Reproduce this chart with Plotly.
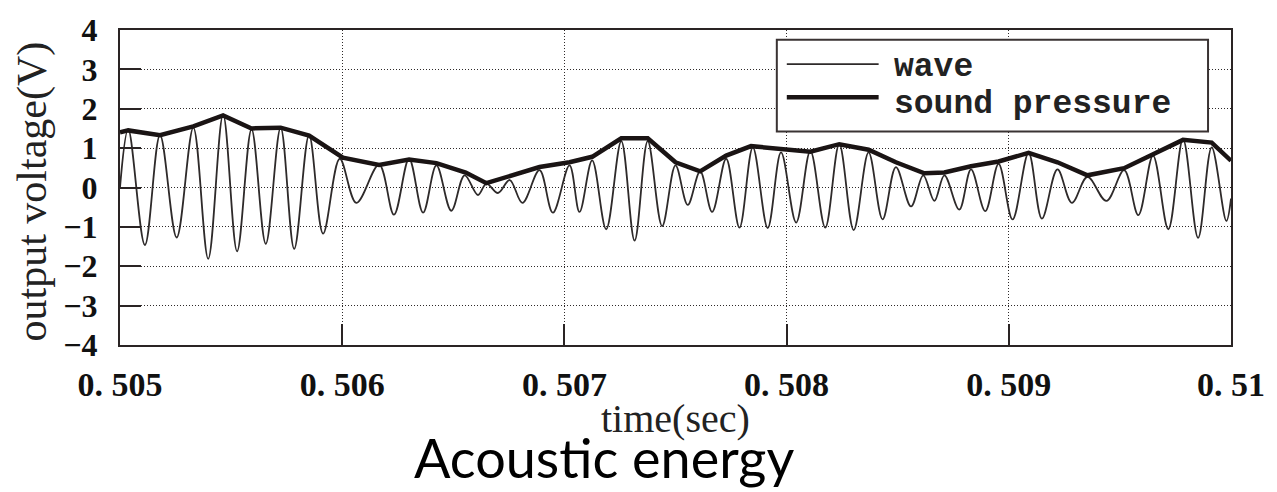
import plotly.graph_objects as go

# ---------------- data ----------------
wave_t = [0.505000, 0.505037, 0.505112, 0.505180, 0.505255, 0.505330, 0.505397, 0.505464,
          0.505527, 0.505592, 0.505656, 0.505723, 0.505784, 0.505851, 0.505914, 0.505989,
          0.506064, 0.506166, 0.506233, 0.506301, 0.506364, 0.506424, 0.506491, 0.506551,
          0.506611, 0.506649, 0.506701, 0.506754, 0.506811, 0.506888, 0.506948, 0.507023,
          0.507068, 0.507125, 0.507188, 0.507256, 0.507316, 0.507375, 0.507440, 0.507500,
          0.507555, 0.507611, 0.507665, 0.507728, 0.507788, 0.507848, 0.507915, 0.507975,
          0.508043, 0.508107, 0.508174, 0.508237, 0.508302, 0.508369, 0.508432, 0.508492,
          0.508560, 0.508615, 0.508665, 0.508710, 0.508777, 0.508830, 0.508894, 0.508954,
          0.509017, 0.509089, 0.509149, 0.509219, 0.509284, 0.509354, 0.509439, 0.509519,
          0.509583, 0.509649, 0.509718, 0.509784, 0.509852, 0.509913, 0.509979, 0.510000]
wave_v = [0.00, 1.48, -1.46, 1.33, -1.27, 1.52, -1.81, 1.85,
          -1.62, 1.48, -1.43, 1.52, -1.56, 1.33, -1.17, 0.73,
          -0.39, 0.58, -0.69, 0.73, -0.64, 0.56, -0.59, 0.31,
          -0.19, 0.10, -0.14, 0.19, -0.39, 0.44, -0.64, 0.56,
          -0.62, 0.69, -1.06, 1.18, -1.35, 1.18, -0.98, 0.56,
          -0.44, 0.41, -0.62, 0.73, -1.02, 1.02, -1.03, 0.89,
          -0.89, 0.93, -1.02, 1.10, -1.08, 0.89, -0.81, 0.52,
          -0.48, 0.31, -0.34, 0.31, -0.56, 0.46, -0.60, 0.60,
          -0.81, 0.88, -0.79, 0.46, -0.39, 0.27, -0.34, 0.44,
          -0.70, 0.81, -1.06, 1.23, -1.28, 1.02, -0.85, -0.28]

sp_t = [0.505000, 0.505037, 0.505180, 0.505330, 0.505464, 0.505592, 0.505723, 0.505851,
        0.506003, 0.506166, 0.506301, 0.506424, 0.506556, 0.506649, 0.506888, 0.507023,
        0.507125, 0.507256, 0.507375, 0.507500, 0.507611, 0.507728, 0.507840, 0.507975,
        0.508107, 0.508237, 0.508369, 0.508492, 0.508620, 0.508710, 0.508830, 0.508954,
        0.509089, 0.509219, 0.509354, 0.509519, 0.509646, 0.509784, 0.509913, 0.510000]
sp_v = [1.40, 1.45, 1.33, 1.55, 1.83, 1.50, 1.52, 1.32,
        0.76, 0.57, 0.71, 0.62, 0.38, 0.11, 0.52, 0.64,
        0.78, 1.25, 1.25, 0.64, 0.41, 0.81, 1.05, 0.97,
        0.91, 1.10, 0.96, 0.64, 0.36, 0.38, 0.54, 0.66,
        0.88, 0.64, 0.31, 0.49, 0.84, 1.21, 1.14, 0.68]

x_tickvals = [0.505, 0.506, 0.507, 0.508, 0.509, 0.510]
x_ticktext = ["0. 505", "0. 506", "0. 507", "0. 508", "0. 509", "0. 51"]
y_tickvals = [-4, -3, -2, -1, 0, 1, 2, 3, 4]
y_ticktext = ["\u22124", "\u22123", "\u22122", "\u22121", "0", "1", "2", "3", "4"]

series_names = ["wave", "sound pressure"]

# ---------------- layout geometry ----------------
W, H = 1277, 492
L, R, T, B = 120, 1233, 22, 345
pw, ph = R - L, B - T


def px(x):
    return (x - L) / pw


def py(y):
    return (B - y) / ph


INK = "#2a2424"
SERIF = "Liberation Serif, Times New Roman, serif"
MONO = "Liberation Mono, DejaVu Sans Mono, monospace"

fig = go.Figure()
fig.add_trace(go.Scatter(x=wave_t, y=wave_v, mode="lines", name=series_names[0],
                         line=dict(color="#2e2a2a", width=1.8, shape="spline", smoothing=1.0),
                         showlegend=False))
fig.add_trace(go.Scatter(x=sp_t, y=sp_v, mode="lines", name=series_names[1],
                         line=dict(color="#1a1414", width=4.5),
                         showlegend=False))

axis_common = dict(showline=True, linecolor=INK, linewidth=2, mirror=True,
                   ticks="inside", ticklen=21, tickwidth=2, tickcolor=INK,
                   showgrid=True, gridcolor="#2e2a2a", gridwidth=1, griddash="1px,2px",
                   zeroline=False)

fig.update_xaxes(range=[0.505, 0.510], tickmode="array", tickvals=x_tickvals,
                 ticktext=x_ticktext, ticklabelstandoff=8,
                 tickfont=dict(family=SERIF, size=34, color="#111", weight="bold"),
                 **axis_common)
fig.update_yaxes(range=[-4, 4], tickmode="array", tickvals=y_tickvals,
                 ticktext=y_ticktext, ticklabelstandoff=14,
                 tickfont=dict(family=SERIF, size=32, color="#111", weight="bold"),
                 **axis_common)

annotations = [
    dict(text="output voltage(V)", xref="paper", yref="paper", x=0, y=0.5,
         xanchor="center", yanchor="middle", xshift=-88, yshift=-4, textangle=-90,
         showarrow=False, font=dict(family=SERIF, size=42, color="#222")),
    dict(text="time(sec)", xref="paper", yref="paper", x=0.5, y=0,
         xanchor="center", yanchor="middle", yshift=-73,
         showarrow=False, font=dict(family=SERIF, size=40, color="#222")),
    dict(text="Acoustic energy", xref="paper", yref="paper", x=px(605), y=0,
         xanchor="center", yanchor="middle", yshift=-112,
         showarrow=False, font=dict(family="Lato, Noto Sans, sans-serif", size=54, color="#000")),
    dict(text=series_names[0], xref="paper", yref="paper", x=px(893), y=py(60),
         xanchor="left", yanchor="middle", showarrow=False,
         font=dict(family=MONO, size=33, color="#222", weight="bold")),
    dict(text=series_names[1], xref="paper", yref="paper", x=px(893), y=py(98),
         xanchor="left", yanchor="middle", showarrow=False,
         font=dict(family=MONO, size=33, color="#222", weight="bold")),
]

shapes = [
    dict(type="rect", xref="paper", yref="paper", x0=px(778), x1=px(1210), y0=py(126), y1=py(32),
         fillcolor="white", line=dict(color="#3a3333", width=2), layer="above"),
    dict(type="line", xref="paper", yref="paper", x0=px(788), x1=px(880), y0=py(57), y1=py(57),
         line=dict(color="#2e2a2a", width=1.8), layer="above"),
    dict(type="line", xref="paper", yref="paper", x0=px(788), x1=px(880), y0=py(91), y1=py(91),
         line=dict(color="#1a1414", width=4.5), layer="above"),
]

fig.update_layout(width=W, height=H, margin=dict(l=L, r=W - R, t=T, b=H - B),
                  paper_bgcolor="white", plot_bgcolor="white", showlegend=False,
                  annotations=annotations, shapes=shapes)

fig.write_html("out.html")
